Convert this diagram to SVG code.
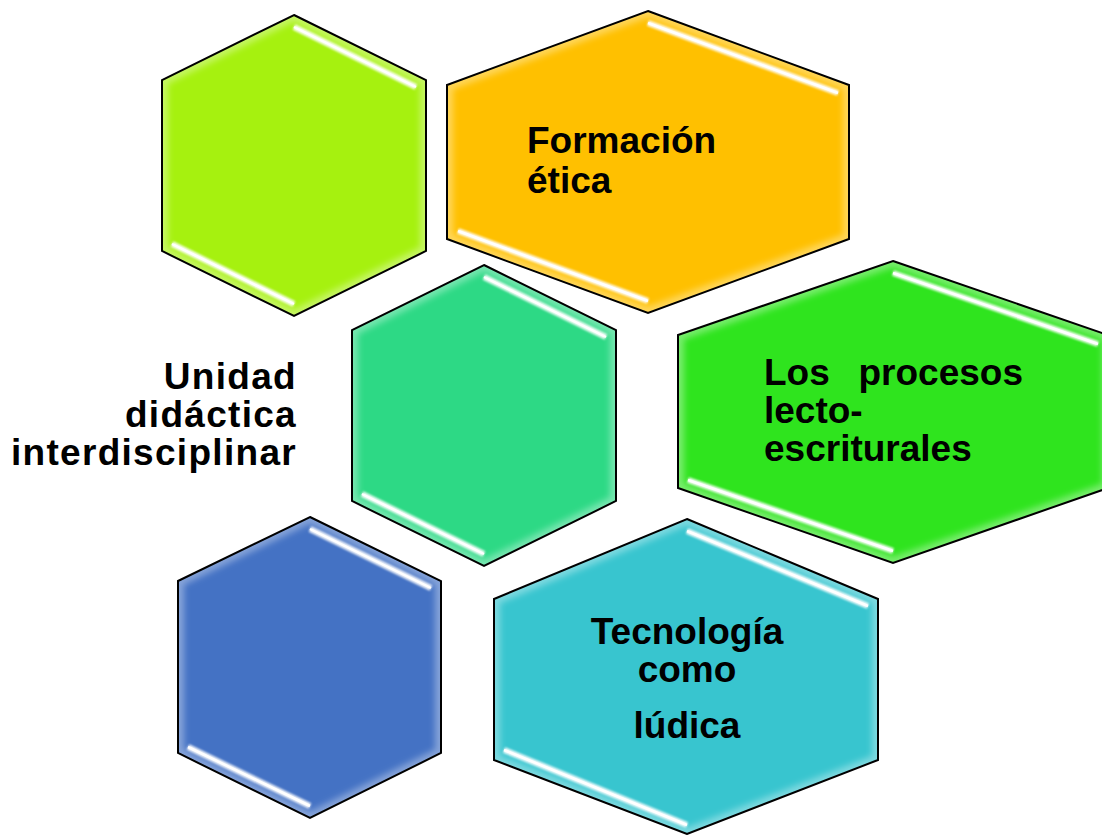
<svg xmlns="http://www.w3.org/2000/svg" xmlns:xlink="http://www.w3.org/1999/xlink" width="1102" height="835" viewBox="0 0 1102 835">
<style>
.outline{fill:none;stroke:#000;stroke-width:2;stroke-linejoin:miter}
.glow{fill:none;stroke:#fff;stroke-width:12;stroke-opacity:0.35;filter:url(#blur3)}
.strip{stroke:#fff;stroke-width:6;stroke-linecap:butt;filter:url(#blur1);opacity:0.9}
.core{stroke:#fff;stroke-width:2.5;stroke-linecap:butt}
.lbl{font-family:"Liberation Sans",Arial,sans-serif;font-weight:bold;font-size:37px;fill:#000}
.ttl{letter-spacing:1.3px}
</style>
<defs>
<filter id="blur3" x="-10%" y="-10%" width="120%" height="120%"><feGaussianBlur stdDeviation="3"/></filter>
<filter id="blur1" x="-10%" y="-50%" width="120%" height="200%"><feGaussianBlur stdDeviation="1.2"/></filter>
<polygon id="p1" points="294,15 426,80 426,251 294,316 162,251 162,80"/>
<polygon id="p2" points="648,11 849,85 849,239 648,313 447,239 447,85"/>
<polygon id="p3" points="484,265 616,330 616,501 484,566 352,501 352,330"/>
<polygon id="p4" points="893,261 1108,335 1108,488 893,563 678,488 678,335"/>
<polygon id="p5" points="310,517 441,581 441,753 310,818 178,753 178,581"/>
<polygon id="p6" points="687,519 878,599 878,760 687,834 494,760 494,599"/>
<clipPath id="c1"><use xlink:href="#p1"/></clipPath>
<clipPath id="c2"><use xlink:href="#p2"/></clipPath>
<clipPath id="c3"><use xlink:href="#p3"/></clipPath>
<clipPath id="c4"><use xlink:href="#p4"/></clipPath>
<clipPath id="c5"><use xlink:href="#p5"/></clipPath>
<clipPath id="c6"><use xlink:href="#p6"/></clipPath>
</defs>
<rect width="1102" height="835" fill="#fff"/>

<g id="hex-lime">
<use xlink:href="#p1" fill="#A6F10F"/>
<g clip-path="url(#c1)"><use xlink:href="#p1" class="glow"/></g>
<line class="strip" x1="294" y1="27" x2="416" y2="87"/><line class="core" x1="294" y1="27" x2="416" y2="87"/>
<line class="strip" x1="172" y1="244" x2="294" y2="304"/><line class="core" x1="172" y1="244" x2="294" y2="304"/>
<use xlink:href="#p1" class="outline"/>
</g>

<g id="hex-formacion">
<use xlink:href="#p2" fill="#FFC000"/>
<g clip-path="url(#c2)"><use xlink:href="#p2" class="glow"/></g>
<line class="strip" x1="648" y1="23" x2="838" y2="93"/><line class="core" x1="648" y1="23" x2="838" y2="93"/>
<line class="strip" x1="458" y1="231" x2="648" y2="301"/><line class="core" x1="458" y1="231" x2="648" y2="301"/>
<use xlink:href="#p2" class="outline"/>
<text class="lbl" x="527" y="153">Formación</text>
<text class="lbl" x="527" y="193">ética</text>
</g>

<g id="hex-center">
<use xlink:href="#p3" fill="#2DD985"/>
<g clip-path="url(#c3)"><use xlink:href="#p3" class="glow"/></g>
<line class="strip" x1="484" y1="277" x2="606" y2="337"/><line class="core" x1="484" y1="277" x2="606" y2="337"/>
<line class="strip" x1="362" y1="494" x2="484" y2="554"/><line class="core" x1="362" y1="494" x2="484" y2="554"/>
<use xlink:href="#p3" class="outline"/>
</g>

<g id="hex-procesos">
<use xlink:href="#p4" fill="#2FE41E"/>
<g clip-path="url(#c4)"><use xlink:href="#p4" class="glow"/></g>
<line class="strip" x1="893" y1="273" x2="1098" y2="344"/><line class="core" x1="893" y1="273" x2="1098" y2="344"/>
<line class="strip" x1="688" y1="480" x2="893" y2="551"/><line class="core" x1="688" y1="480" x2="893" y2="551"/>
<use xlink:href="#p4" class="outline"/>
<text class="lbl" x="764" y="385">Los</text>
<text class="lbl" x="1023" y="385" text-anchor="end">procesos</text>
<text class="lbl" x="764" y="423">lecto-</text>
<text class="lbl" x="764" y="461">escriturales</text>
</g>

<g id="hex-blue">
<use xlink:href="#p5" fill="#4472C4"/>
<g clip-path="url(#c5)"><use xlink:href="#p5" class="glow"/></g>
<line class="strip" x1="310" y1="529" x2="431" y2="588"/><line class="core" x1="310" y1="529" x2="431" y2="588"/>
<line class="strip" x1="188" y1="747" x2="310" y2="806"/><line class="core" x1="188" y1="747" x2="310" y2="806"/>
<use xlink:href="#p5" class="outline"/>
</g>

<g id="hex-tecnologia">
<use xlink:href="#p6" fill="#38C5CF"/>
<g clip-path="url(#c6)"><use xlink:href="#p6" class="glow"/></g>
<line class="strip" x1="687" y1="531" x2="868" y2="606"/><line class="core" x1="687" y1="531" x2="868" y2="606"/>
<line class="strip" x1="504" y1="750" x2="687" y2="825"/><line class="core" x1="504" y1="750" x2="687" y2="825"/>
<use xlink:href="#p6" class="outline"/>
<text class="lbl" x="687" y="644" text-anchor="middle">Tecnología</text>
<text class="lbl" x="687" y="682" text-anchor="middle">como</text>
<text class="lbl" x="687" y="738" text-anchor="middle">lúdica</text>
</g>

<g id="title">
<text class="lbl ttl" x="297" y="389" text-anchor="end">Unidad</text>
<text class="lbl ttl" x="297" y="427" text-anchor="end">didáctica</text>
<text class="lbl ttl" x="297" y="465" text-anchor="end">interdisciplinar</text>
</g>

<g id="connectors"/>
</svg>
